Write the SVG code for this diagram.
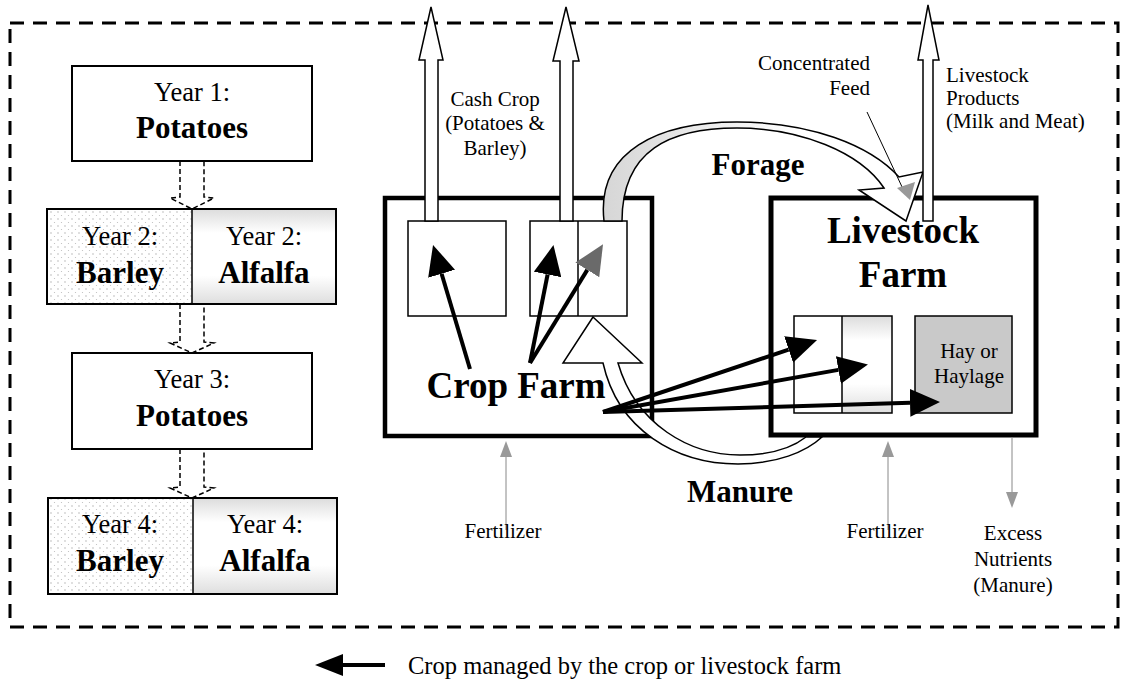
<svg xmlns="http://www.w3.org/2000/svg" width="1123" height="687" viewBox="0 0 1123 687">
<style>
text{font-family:"Liberation Serif","Times New Roman",serif;fill:#000}
.yr{font-size:26.5px;text-anchor:middle}
.crop{font-size:31px;font-weight:bold;text-anchor:middle}
.big{font-size:37px;font-weight:bold;text-anchor:middle}
.mid{font-size:31px;font-weight:bold;text-anchor:middle}
.lbl{font-size:21px}
.c{text-anchor:middle}
.ybox{fill:#fff;stroke:#000;stroke-width:2}
.thin{fill:none;stroke:#000;stroke-width:1.5}
.rot{fill:none;stroke:#000;stroke-width:1.5;stroke-dasharray:5 3}
.blk{stroke:#000;stroke-width:4;fill:none}
.fert{stroke:#888;stroke-width:1;fill:none}
</style>
<defs>
<pattern id="dots" width="7" height="7" patternUnits="userSpaceOnUse">
<rect width="7" height="7" fill="#fff"/>
<circle cx="2" cy="2" r="0.7" fill="#aaa"/>
<circle cx="5.5" cy="5.5" r="0.6" fill="#bbb"/>
</pattern>
<linearGradient id="alf" x1="0" y1="0" x2="0" y2="1">
<stop offset="0" stop-color="#dcdcdc"/>
<stop offset="0.25" stop-color="#fff"/>
<stop offset="0.7" stop-color="#fff"/>
<stop offset="1" stop-color="#dedede"/>
</linearGradient>
<linearGradient id="forg" x1="0" y1="0" x2="1" y2="0">
<stop offset="0" stop-color="#d6d6d6"/>
<stop offset="0.35" stop-color="#eee"/>
<stop offset="0.6" stop-color="#fff"/>
</linearGradient>
<marker id="ah" markerWidth="30" markerHeight="28" viewBox="0 0 30 28" refX="0" refY="14" orient="auto" markerUnits="userSpaceOnUse">
<path d="M0,0 L30,14 L0,28 Z" fill="#000"/>
</marker>
<marker id="ahg" markerWidth="30" markerHeight="28" viewBox="0 0 30 28" refX="0" refY="14" orient="auto" markerUnits="userSpaceOnUse">
<path d="M0,0 L30,14 L0,28 Z" fill="#6a6a6a"/>
</marker>
</defs>

<g id="boundary">
<rect x="10" y="23" width="1108" height="604" fill="none" stroke="#000" stroke-width="3" stroke-dasharray="14 9"/>
</g>

<g id="year1">
<rect class="ybox" x="72" y="66" width="240" height="95"/>
<text class="yr" x="192" y="101">Year 1:</text>
<text class="crop" x="192" y="138">Potatoes</text>
</g>
<g id="year2">
<rect x="47" y="209" width="145" height="95" fill="url(#dots)"/>
<rect x="192" y="209" width="144" height="95" fill="url(#alf)"/>
<rect x="47" y="209" width="289" height="95" fill="none" stroke="#000" stroke-width="2"/>
<line x1="192" y1="209" x2="192" y2="304" stroke="#000" stroke-width="1.5"/>
<text class="yr" x="120" y="245">Year 2:</text>
<text class="crop" x="120" y="283">Barley</text>
<text class="yr" x="264" y="245">Year 2:</text>
<text class="crop" x="264" y="283">Alfalfa</text>
</g>
<g id="year3">
<rect class="ybox" x="72" y="353" width="240" height="96"/>
<text class="yr" x="192" y="388">Year 3:</text>
<text class="crop" x="192" y="426">Potatoes</text>
</g>
<g id="year4">
<rect x="48" y="498" width="145" height="96" fill="url(#dots)"/>
<rect x="193" y="498" width="144" height="96" fill="url(#alf)"/>
<rect x="48" y="498" width="289" height="96" fill="none" stroke="#000" stroke-width="2"/>
<line x1="193" y1="498" x2="193" y2="594" stroke="#000" stroke-width="1.5"/>
<text class="yr" x="120" y="533">Year 4:</text>
<text class="crop" x="120" y="571">Barley</text>
<text class="yr" x="265" y="533">Year 4:</text>
<text class="crop" x="265" y="571">Alfalfa</text>
</g>

<g id="crop-farm">
<rect x="385" y="198" width="267" height="238" fill="#fff" stroke="#000" stroke-width="4.5"/>
<rect x="408" y="221" width="98" height="95" class="thin" fill="#fff"/>
<rect x="530" y="221" width="97" height="95" class="thin" fill="#fff"/>
<line x1="578" y1="221" x2="578" y2="316" stroke="#000" stroke-width="1.5"/>
<text class="big" x="516" y="398">Crop Farm</text>
</g>

<g id="livestock-farm">
<rect x="771" y="198" width="265" height="237" fill="#fff" stroke="#000" stroke-width="5"/>
<rect x="842" y="316" width="50" height="97" fill="url(#alf)"/>
<rect x="794" y="316" width="98" height="97" class="thin"/>
<line x1="842" y1="316" x2="842" y2="413" stroke="#000" stroke-width="1.5"/>
<rect x="915" y="316" width="97" height="97" fill="#c9c9c9" stroke="#000" stroke-width="1.5"/>
<text class="lbl c" x="969" y="358">Hay or</text>
<text class="lbl c" x="969" y="383">Haylage</text>
<text class="big" x="903" y="243">Livestock</text>
<text class="big" x="903" y="287">Farm</text>
</g>

<g id="connectors">
<path class="rot" d="M180,161 V197 L170,198 L192,209 L214,198 L204,197 V161"/>
<path class="rot" d="M180,304 V342 L170,343 L192,353 L214,343 L204,342 V304"/>
<path class="rot" d="M180,449 V487 L170,488 L192,498 L214,488 L204,487 V449"/>

<path d="M593,317 L642,363 L618,363 C636,425 690,455 740,455 C770,455 792,448 806,437 L822,437 C806,452 776,464 738,464 C676,464 618,430 603,363 L563,363 Z" fill="#fff" stroke="#000" stroke-width="1.5"/>

<path d="M604,221 C596,150 660,122 737,122 C810,122 870,145 899,177 L923,172 L906,221 L859,190 L884,188 C860,152 800,128 737,128 C670,128 622,150 622,221 Z" fill="url(#forg)" stroke="#000" stroke-width="1.5"/>

<path d="M425,221 V60 H419 L431,7 L443,60 H438 V221 Z" fill="#fff" stroke="#000" stroke-width="1.5"/>
<path d="M560,221 V61 H553 L566,7 L579,61 H573 V221 Z" fill="#fff" stroke="#000" stroke-width="1.5"/>

<path d="M923,221 V60 H918 L928,5 L939,60 H933 V221 Z" fill="#fff" stroke="#000" stroke-width="1.5"/>

<line x1="867" y1="112" x2="903" y2="189" stroke="#000" stroke-width="1"/>
<polygon points="897,188 915,182 910,200" fill="#999"/>

<line class="blk" x1="470" y1="369" x2="441.6" y2="273.7" marker-end="url(#ah)"/>
<line class="blk" x1="530" y1="363" x2="547.6" y2="274.5" marker-end="url(#ah)"/>
<line class="blk" x1="530" y1="363" x2="587.3" y2="269.9" marker-end="url(#ahg)"/>

<line class="blk" x1="603" y1="412" x2="788.6" y2="349.6" marker-end="url(#ah)"/>
<line class="blk" x1="603" y1="412" x2="838.4" y2="369.9" marker-end="url(#ah)"/>
<line class="blk" x1="603" y1="412" x2="910" y2="402.8" marker-end="url(#ah)"/>

<line class="fert" x1="506" y1="530" x2="506" y2="455"/>
<polygon points="500,457 512,457 506,441" fill="#999"/>
<line class="fert" x1="888" y1="530" x2="888" y2="455"/>
<polygon points="882,457 894,457 888,441" fill="#999"/>
<line class="fert" x1="1012" y1="437" x2="1012" y2="494"/>
<polygon points="1006,492 1018,492 1012,508" fill="#999"/>
</g>

<g id="labels">
<text class="lbl c" x="495" y="106">Cash Crop</text>
<text class="lbl c" x="495" y="130">(Potatoes &amp;</text>
<text class="lbl c" x="495" y="155">Barley)</text>
<text class="lbl" x="870" y="70" text-anchor="end">Concentrated</text>
<text class="lbl" x="870" y="95" text-anchor="end">Feed</text>
<text class="lbl" x="946" y="82">Livestock</text>
<text class="lbl" x="946" y="105">Products</text>
<text class="lbl" x="946" y="128">(Milk and Meat)</text>
<text class="mid" x="758" y="175">Forage</text>
<text class="mid" x="740" y="502" font-size="32">Manure</text>
<text class="lbl c" x="503" y="538">Fertilizer</text>
<text class="lbl c" x="885" y="538">Fertilizer</text>
<text class="lbl c" x="1013" y="540">Excess</text>
<text class="lbl c" x="1013" y="566">Nutrients</text>
<text class="lbl c" x="1013" y="592">(Manure)</text>
</g>

<g id="legend">
<line x1="340" y1="665" x2="385" y2="665" stroke="#000" stroke-width="4"/>
<polygon points="315,665 343,654 343,676" fill="#000"/>
<text x="408" y="674" font-size="24.5">Crop managed by the crop or livestock farm</text>
</g>
</svg>
